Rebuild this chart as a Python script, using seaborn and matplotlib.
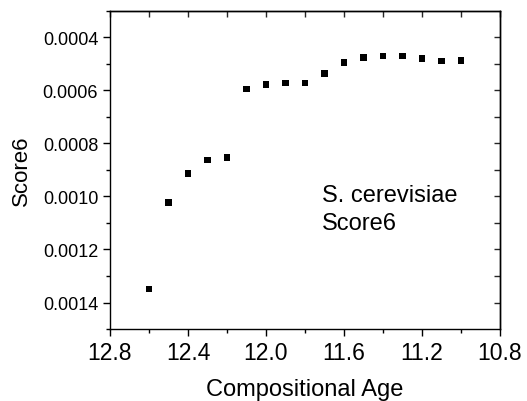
#!/usr/bin/env python3

import numpy as np
import pandas as pd
import matplotlib
matplotlib.use("Agg")
import matplotlib.pyplot as plt
from matplotlib.ticker import MultipleLocator
import seaborn as sns


# ------------------ DATA ------------------

ages = [12.6, 12.5, 12.4, 12.3, 12.2, 12.1, 12.0, 11.9, 11.8, 11.7,
        11.6, 11.5, 11.4, 11.3, 11.2, 11.1, 11.0]
score6 = [0.001349, 0.001023, 0.000913, 0.000863, 0.000853, 0.000595,
          0.000579, 0.000573, 0.000573, 0.000536, 0.000495, 0.000476,
          0.000471, 0.000471, 0.000481, 0.000490, 0.000488]

x_ticks = [12.8, 12.4, 12.0, 11.6, 11.2, 10.8]
y_ticks = [0.0004, 0.0006, 0.0008, 0.0010, 0.0012, 0.0014]


# ------------------ STYLE ------------------

sns.set_theme(style="ticks")
plt.rcParams["font.family"] = ["Liberation Sans", "DejaVu Sans"]
plt.rcParams["text.color"] = "black"
plt.rcParams["axes.labelcolor"] = "black"


# ------------------ PLOT ------------------

df = pd.DataFrame({"age": ages, "score": score6})

fig = plt.figure(figsize=(5.27, 4.02), dpi=100)
ax = fig.add_axes([0.2087, 0.179, 0.74, 0.792])

sns.scatterplot(data=df, x="age", y="score", ax=ax, marker="s",
                color="black", s=22, edgecolor="none")

ax.set_xlim(12.8, 10.8)
ax.set_ylim(0.0015, 0.0003)

ax.set_xticks(x_ticks)
ax.set_xticklabels([f"{v:.1f}" for v in x_ticks], fontsize=16.5)
ax.xaxis.set_minor_locator(MultipleLocator(0.2))
ax.set_yticks(y_ticks)
ax.set_yticklabels([f"{v:.4f}" for v in y_ticks], fontsize=13)
ax.yaxis.set_minor_locator(MultipleLocator(0.0001))

ax.tick_params(which="major", direction="out", length=5, width=1,
               color="black", labelcolor="black")
ax.tick_params(which="minor", direction="out", length=3, width=1,
               color="black")

# inward ticks on top / right
top = ax.secondary_xaxis("top")
top.set_xticks(np.arange(12.8, 10.79, -0.2))
top.tick_params(direction="in", length=4, width=1, labeltop=False)
right = ax.secondary_yaxis("right")
right.set_yticks(np.arange(0.0004, 0.00141, 0.0001))
right.tick_params(direction="in", length=4, width=1, labelright=False)

for spine in list(ax.spines.values()) + [top.spines["top"], right.spines["right"]]:
    spine.set_color("black")
    spine.set_linewidth(1)

ax.set_xlabel("Compositional Age", fontsize=17, labelpad=10, color="black")
ax.set_ylabel("Score6", fontsize=16, labelpad=8, color="black")

ax.text(0.5436, 0.455, "S. cerevisiae\nScore6", transform=ax.transAxes,
        fontsize=17, va="top", ha="left", linespacing=1.35, color="black")

fig.savefig("out.png", dpi=100)
plt.close(fig)
